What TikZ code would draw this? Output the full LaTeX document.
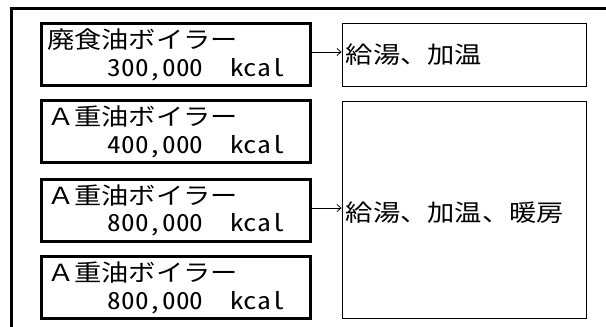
\documentclass[tikz,border=0pt]{standalone}
\usepackage{fontspec}
\setmainfont{Noto Sans CJK JP}[FakeStretch=1.16]
\newfontfamily\jphw{Noto Sans CJK JP}[RawFeature=+hwid,FakeStretch=1.16]
\usetikzlibrary{arrows.meta,calc}
\begin{document}
\begin{tikzpicture}[x=1pt,y=-1pt,
  boiler/.style={draw,line width=3pt,minimum width=269pt,minimum height=62pt,inner sep=0pt},
  usebox/.style={draw,line width=0.8pt,minimum width=244pt,inner sep=0pt},
  lbl/.style={font=\fontsize{23.5}{28}\selectfont,inner sep=0pt},
  kcaltext/.style={font=\jphw\fontsize{23.5}{28}\selectfont,inner sep=0pt},
  flow/.style={line width=0.8pt,-{Straight Barb[length=4pt,width=7pt]}}]
\useasboundingbox (0,0) rectangle (606,327);
\fill[white] (0,0) rectangle (606,327);
% outer frame (cut by the picture's edges)
\draw[line width=3pt] (610,8.5) -- (11.5,8.5) -- (11.5,332);
% boilers
\node[boiler] (b1) at (176,54.5) {};
\node[boiler] (b2) at (176,131.5) {};
\node[boiler] (b3) at (176,210) {};
\node[boiler] (b4) at (176,287.3) {};
\foreach \n/\t/\v in {b1/廃食油ボイラー/300,b2/Ａ重油ボイラー/400,b3/Ａ重油ボイラー/800,b4/Ａ重油ボイラー/800}{
  \node[lbl,anchor=west] (\n t) at ($(\n.north west)+(7,18)$) {\t};
  \node[kcaltext,anchor=east] (\n c) at ($(\n.north west)+(245,47.5)$) {\v,000\hspace{27pt}kcal};
}
% uses
\node[usebox,minimum height=63pt] (uA) at (464,54.5) {};
\node[usebox,minimum height=217pt] (uB) at (464,209.5) {};
\node[lbl,anchor=west] (uAt) at ($(uA.west)+(4,0)$) {給湯、加温};
\node[lbl,anchor=west] (uBt) at ($(uB.west)+(4,3)$) {給湯、加温、暖房};
% connectors
\draw[flow] ([yshift=2.5pt]b1.east) -- ([yshift=2.5pt]uA.west);
\draw[flow] ([yshift=2pt]b3.east) -- ([yshift=2pt]b3.east -| uB.west);
\end{tikzpicture}
\end{document}
